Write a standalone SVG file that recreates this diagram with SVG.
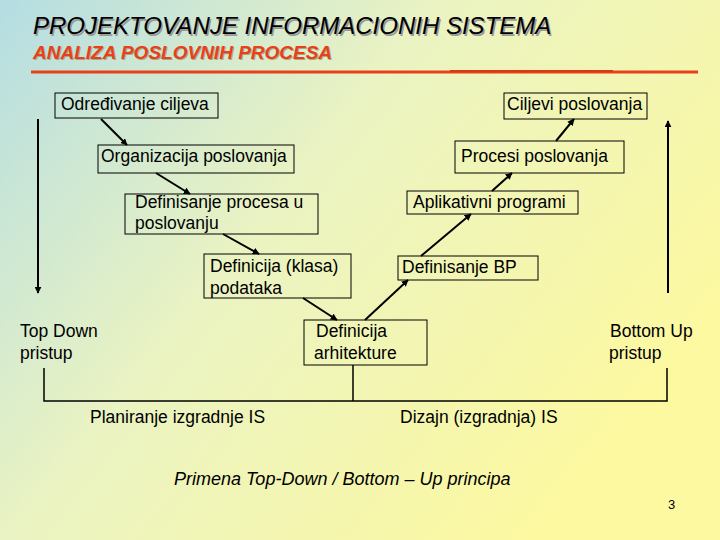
<svg xmlns="http://www.w3.org/2000/svg" width="720" height="540" viewBox="0 0 720 540">
<defs>
<linearGradient id="bg" x1="0" y1="0" x2="1" y2="0.6">
<stop offset="0" stop-color="#b4dde3"/><stop offset="0.45" stop-color="#eaf3c2"/><stop offset="1" stop-color="#fdf9a0"/>
</linearGradient>
<marker id="ah" viewBox="0 0 10 10" refX="9" refY="5" markerWidth="7" markerHeight="7" orient="auto" markerUnits="userSpaceOnUse"><path d="M0,0 L10,5 L0,10 z" fill="#000"/></marker>
<style>
.b{fill:none;stroke:#000;stroke-width:1}
.t{font-family:"Liberation Sans",Arial,sans-serif;font-size:17.5px;fill:#000}
.c{stroke:#000;stroke-width:2;fill:none;marker-end:url(#ah)}
.l{stroke:#000;stroke-width:1.5;fill:none}
</style>
</defs>
<rect width="720" height="540" fill="url(#bg)"/>
<g id="title">
<text x="34.5" y="35.5" font-family="Liberation Sans,Arial,sans-serif" font-size="24" font-style="italic" fill="#999">PROJEKTOVANJE INFORMACIONIH SISTEMA</text>
<text x="33" y="34" font-family="Liberation Sans,Arial,sans-serif" font-size="24" font-style="italic" fill="#000">PROJEKTOVANJE INFORMACIONIH SISTEMA</text>
<text x="34" y="60" font-family="Liberation Sans,Arial,sans-serif" font-size="19" font-style="italic" font-weight="bold" fill="#a8a888">ANALIZA POSLOVNIH PROCESA</text>
<text x="33" y="59" font-family="Liberation Sans,Arial,sans-serif" font-size="19" font-style="italic" font-weight="bold" fill="#e8401a">ANALIZA POSLOVNIH PROCESA</text>
<line x1="31" y1="72" x2="698" y2="72" stroke="#e8401a" stroke-width="3"/>
<line x1="450" y1="71" x2="613" y2="71" stroke="#d83a10" stroke-width="2"/>
</g>
<g id="n1"><rect class="b" x="55" y="93" width="163" height="25"/><text class="t" x="61" y="110">Određivanje ciljeva</text></g>
<g id="n2"><rect class="b" x="98" y="145" width="196" height="28"/><text class="t" x="101" y="162">Organizacija poslovanja</text></g>
<g id="n3"><rect class="b" x="125" y="194" width="193" height="40"/><text class="t" x="135" y="208">Definisanje procesa u</text><text class="t" x="135" y="229">poslovanju</text></g>
<g id="n4"><rect class="b" x="204" y="254" width="147" height="44"/><text class="t" x="210" y="272">Definicija (klasa)</text><text class="t" x="210" y="294">podataka</text></g>
<g id="n5"><rect class="b" x="304" y="320" width="123" height="45"/><text class="t" x="316" y="337">Definicija</text><text class="t" x="314" y="359">arhitekture</text></g>
<g id="n6"><rect class="b" x="398" y="256" width="140" height="24"/><text class="t" x="402" y="273">Definisanje BP</text></g>
<g id="n7"><rect class="b" x="407" y="191" width="171" height="23"/><text class="t" x="413" y="208">Aplikativni programi</text></g>
<g id="n8"><rect class="b" x="455" y="141" width="169" height="32"/><text class="t" x="461" y="162">Procesi poslovanja</text></g>
<g id="n9"><rect class="b" x="504" y="93" width="143" height="26"/><text class="t" x="507" y="110">Ciljevi poslovanja</text></g>
<g id="labels">
<text class="t" x="20" y="337">Top Down</text><text class="t" x="20" y="359">pristup</text>
<text class="t" x="610" y="337">Bottom Up</text><text class="t" x="609" y="359">pristup</text>
<text class="t" x="90" y="423">Planiranje izgradnje  IS</text>
<text class="t" x="400" y="423">Dizajn (izgradnja) IS</text>
<text x="174" y="485" font-family="Liberation Sans,Arial,sans-serif" font-size="18" font-style="italic" fill="#000">Primena Top-Down / Bottom – Up principa</text>
<text x="668" y="509" font-family="Liberation Sans,Arial,sans-serif" font-size="13" fill="#000">3</text>
</g>
<g id="connectors">
<line class="c" x1="101" y1="119" x2="127" y2="145"/>
<line class="c" x1="156" y1="173" x2="190" y2="194"/>
<line class="c" x1="223" y1="234" x2="259" y2="254"/>
<line class="c" x1="303" y1="298" x2="337" y2="320"/>
<line class="c" x1="365" y1="320" x2="408" y2="280"/>
<line class="c" x1="421" y1="256" x2="471" y2="214"/>
<line class="c" x1="492" y1="191" x2="512" y2="173"/>
<line class="c" x1="556" y1="141" x2="574" y2="119"/>
<line class="c" x1="38" y1="119" x2="38" y2="293"/>
<line class="c" x1="668" y1="293" x2="668" y2="121"/>
<path class="l" d="M44,368 V401 H667 V368 M353,365 V401"/>
</g>
</svg>
